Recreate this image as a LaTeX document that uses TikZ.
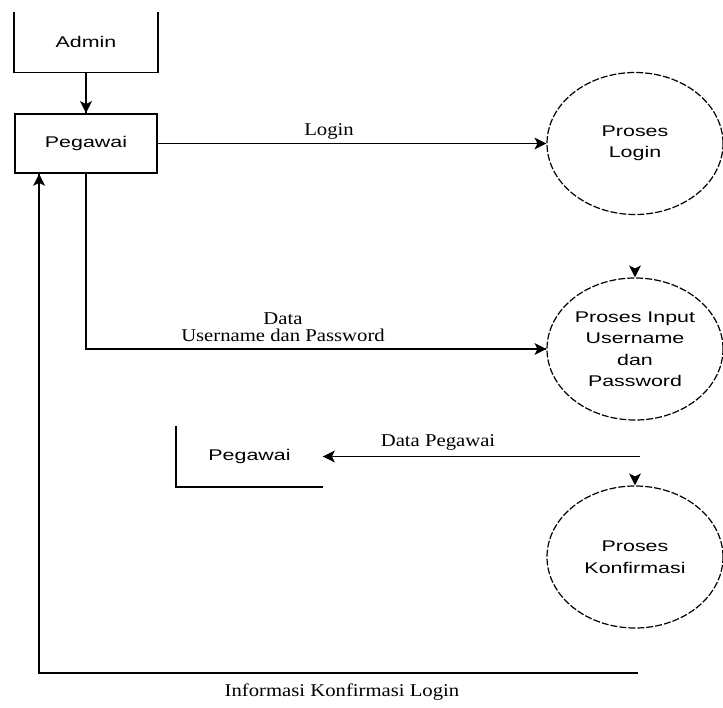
\documentclass[tikz,border=0pt]{standalone}
\usepackage{fontspec}
\setmainfont{Liberation Serif}[FakeStretch=1.15]
\setsansfont{Liberation Sans}[FakeStretch=1.38]
\usetikzlibrary{shapes.geometric}

\tikzset{every picture/.style={line width=1.8pt}}
\tikzset{
  entity/.style={minimum width=142pt,minimum height=59pt,inner sep=0pt,font=\sffamily\fontsize{15.5}{18}\selectfont},
  proses/.style={ellipse,draw,line width=1.2pt,dash pattern=on 7pt off 2pt,minimum width=176pt,minimum height=142pt,inner sep=0pt,align=center,font=\sffamily\fontsize{15.5}{21.5}\selectfont},
  flowlabel/.style={inner sep=0pt,align=center,font=\fontsize{18}{17}\selectfont}
}

\begin{document}
\begin{tikzpicture}[x=1pt,y=-1pt]
\useasboundingbox (0,0) rectangle (723,707);
% terminators
\node [entity] (admin) at (86,42) {Admin};
\draw (admin.north west) -- (admin.south west) -- (admin.south east) -- (admin.north east);
\node [entity,draw] (pegawai) at (86,143.5) {Pegawai};
% processes
\node [proses] (login) at (635,143.5) {Proses\\Login};
\node [proses] (input) at (635,349) {Proses Input\\Username\\dan\\Password};
\node [proses] (konf) at (635,557) {Proses\\Konfirmasi};
% data store
\node [entity,minimum width=145pt] (store) at (249.5,456.5) {Pegawai};
\draw (store.north west) -- (store.south west) -- (store.south east);
% admin -> pegawai
\draw (admin.south) -- (pegawai.north);
\fill (pegawai.north) -- ++(-6,-12) -- ++(6,3) -- ++(6,-3) -- cycle;
% login
\draw (pegawai.east) -- (login.west);
\fill (login.west) -- ++(-12,-6) -- ++(3,6) -- ++(-3,6) -- cycle;
\node [flowlabel] (lblogin) at (329,131) {Login};
% data username dan password
\draw (pegawai.south) |- (input.west);
\fill (input.west) -- ++(-12,-6) -- ++(3,6) -- ++(-3,6) -- cycle;
\node [flowlabel] (lbdata) at (283,327) {Data\\Username dan Password};
\fill (input.north) -- ++(-6,-12) -- ++(6,3) -- ++(6,-3) -- cycle;
% data pegawai
\coordinate (dp) at (640,456.5);
\draw (dp) -- (store.east);
\fill (store.east) -- ++(12,-6) -- ++(-3,6) -- ++(3,6) -- cycle;
\node [flowlabel] (lbpeg) at (438,442) {Data Pegawai};
\fill (konf.north) -- ++(-6,-12) -- ++(6,3) -- ++(6,-3) -- cycle;
% informasi konfirmasi login
\coordinate (fb) at (638,673);
\draw (fb) -| ([xshift=25pt]pegawai.south west);
\fill ([xshift=25pt]pegawai.south west) -- ++(-6,12) -- ++(6,-3) -- ++(6,3) -- cycle;
\node [flowlabel] (lbinfo) at (342,692) {Informasi Konfirmasi Login};
\end{tikzpicture}
\end{document}
